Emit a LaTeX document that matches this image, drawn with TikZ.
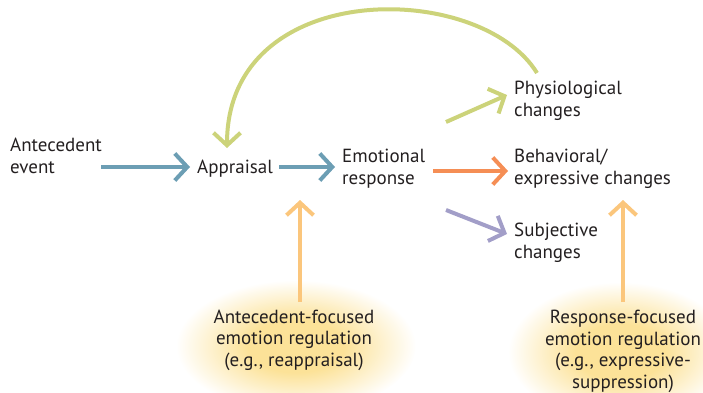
\documentclass[tikz,border=0pt]{standalone}
\usepackage{fontspec}
\setmainfont{PT Sans}
\usetikzlibrary{arrows.meta}
\definecolor{txt}{RGB}{35,31,32}
\definecolor{flowblue}{RGB}{108,158,180}
\definecolor{leafgreen}{RGB}{204,211,122}
\definecolor{flamorange}{RGB}{245,142,85}
\definecolor{lavender}{RGB}{162,158,200}
\definecolor{peach}{RGB}{251,198,124}
\definecolor{glowc}{RGB}{252,226,152}
\pgfdeclareradialshading{halo}{\pgfpoint{0bp}{0bp}}{%
  color(0bp)=(glowc); color(10bp)=(glowc); color(25bp)=(white); color(50bp)=(white)}
\tikzset{
  lbl/.style={font=\fontsize{19}{21.5}\selectfont, text=txt, inner sep=0pt, align=left},
  clbl/.style={lbl, align=center},
  flow/.style={line width=4pt, -{Straight Barb[length=12.5pt,width=27pt]}},
}
\begin{document}
\begin{tikzpicture}[x=1pt,y=1pt]
\useasboundingbox (0,0) rectangle (703,392);
% soft halos behind the two regulation labels
\shade[shading=halo] (296,46) ellipse [x radius=120, y radius=66];
\shade[shading=halo] (620,40) ellipse [x radius=112, y radius=70];

% process stages (base = baseline of the last line)
\node[lbl, anchor=base west] (ante) at (10,219) {Antecedent\\event};
\node[lbl, anchor=base west] (appr) at (197,219) {Appraisal};
\node[lbl, anchor=base west] (emo)  at (342,208) {Emotional\\response};
\node[lbl, anchor=base west] (phys) at (514,276) {Physiological\\changes};
\node[lbl, anchor=base west] (beh)  at (514,208) {Behavioral/\\expressive changes};
\node[lbl, anchor=base west] (subj) at (514,134) {Subjective\\changes};

% regulation strategies
\node[clbl, anchor=base] (antreg) at (294,26) {Antecedent-focused\\emotion regulation\\(e.g., reappraisal)};
\node[clbl, anchor=base] (resreg) at (623,4) {Response-focused\\emotion regulation\\(e.g., expressive-\\suppression)};

% arrow end points
\coordinate (a1s) at ([xshift=91pt]ante.west |- 0,225);
\coordinate (a1e) at ([xshift=-7pt]appr.west |- 0,225);
\coordinate (a2s) at ([xshift=6pt]appr.east |- 0,225);
\coordinate (a2e) at ([xshift=-7pt]emo.west |- 0,225);
\coordinate (gs) at (446,270);
\coordinate (ge) at ([xshift=-7pt]phys.west |- 0,297);
\coordinate (os) at (433,221);
\coordinate (oe) at ([xshift=-6pt]beh.west |- 0,221);
\coordinate (ps) at (446,182);
\coordinate (pe) at ([xshift=-7pt]subj.west |- 0,158);
\coordinate (loopS) at (537,319);
\coordinate (loopE) at (227,244);
\coordinate (r1s) at ([xshift=6pt]antreg.north |- 0,90);
\coordinate (r1e) at ([xshift=6pt]antreg.north |- 0,192);
\coordinate (r2s) at (resreg.north |- 0,90);
\coordinate (r2e) at (resreg.north |- 0,192);

% connectors
\draw[flow, flowblue] (a1s) -- (a1e);
\draw[flow, flowblue] (a2s) -- (a2e);
\draw[flow, leafgreen] (gs) -- (ge);
\draw[flow, flamorange] (os) -- (oe);
\draw[flow, lavender] (ps) -- (pe);
\draw[flow, leafgreen] (loopS) .. controls (480,412) and (227,415) .. (loopE);
\draw[flow, peach] (r1s) -- (r1e);
\draw[flow, peach] (r2s) -- (r2e);
\end{tikzpicture}
\end{document}
